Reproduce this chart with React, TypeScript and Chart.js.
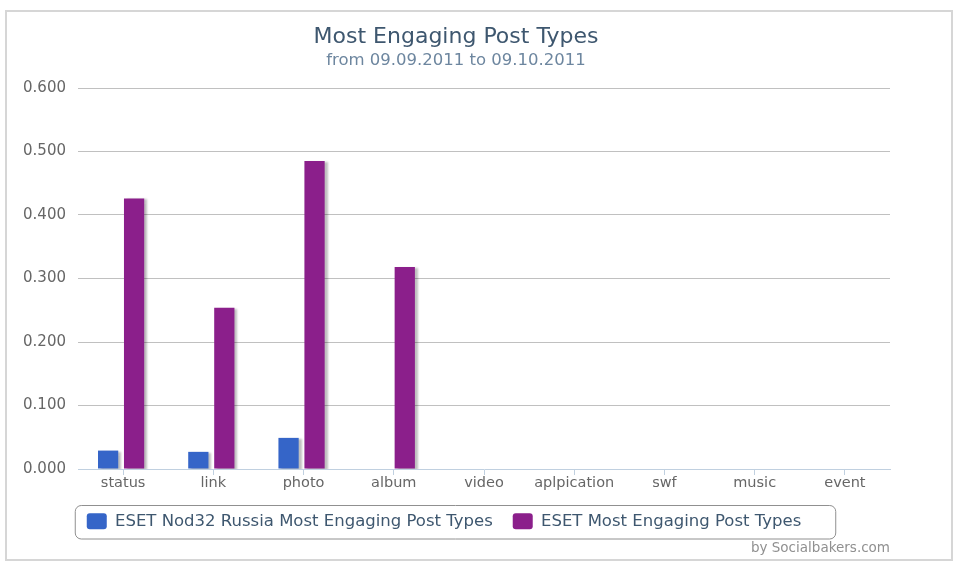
import { Chart, registerables } from "chart.js";
import { useEffect, useRef } from "react";

Chart.register(...registerables);

const categories = ["status", "link", "photo", "album", "video", "aplpication", "swf", "music", "event"];
const russiaValues = [0.029, 0.027, 0.049, 0, 0, 0, 0, 0, 0];
const esetValues = [0.426, 0.254, 0.485, 0.318, 0, 0, 0, 0, 0];
const seriesNames = ["ESET Nod32 Russia Most Engaging Post Types", "ESET Most Engaging Post Types"];
const yTicks = [0, 0.1, 0.2, 0.3, 0.4, 0.5, 0.6];

const FONT = "'DejaVu Sans', Verdana, sans-serif";

// bars get a soft grey shadow to the right (and sit a bit left of the tick, like the original)
const barShadow = {
    id: "barShadow",
    beforeDatasetsDraw(chart: Chart) {
        const ctx = chart.ctx;
        ctx.save();
        ctx.translate(-2, 0);
        ctx.shadowColor = "rgba(0,0,0,0.25)";
        ctx.shadowOffsetX = 3;
        ctx.shadowOffsetY = 1;
        ctx.shadowBlur = 2;
    },
    afterDatasetsDraw(chart: Chart) {
        chart.ctx.restore();
    },
};

// rounded frame around the legend and the credits text
const legendFrame = {
    id: "legendFrame",
    afterLayout(chart: Chart) {
        // the legend box sits a little left of centre in the original
        const legend: any = chart.legend;
        if (!legend) return;
        legend.left -= 12;
        legend.right -= 12;
    },
    afterDraw(chart: Chart) {
        const legend: any = chart.legend;
        if (!legend || !legend.legendHitBoxes?.length) return;
        const boxes = legend.legendHitBoxes;
        const left = Math.min(...boxes.map((b: any) => b.left)) - 12;
        const right = Math.max(...boxes.map((b: any) => b.left + b.width)) + 34;
        const top = boxes[0].top - 8;
        const bottom = boxes[0].top + boxes[0].height + 9;
        const ctx = chart.ctx;
        ctx.save();
        ctx.strokeStyle = "#909090";
        ctx.lineWidth = 1;
        ctx.beginPath();
        ctx.roundRect(left + 0.5, top + 0.5, right - left, bottom - top, 6);
        ctx.stroke();
        ctx.fillStyle = "#909090";
        ctx.font = `13.5px ${FONT}`;
        ctx.textAlign = "right";
        ctx.textBaseline = "middle";
        ctx.fillText("by Socialbakers.com", chart.chartArea.right, bottom + 10);
        ctx.restore();
    },
};

const BarChart = () => {
    const canvasRef = useRef<HTMLCanvasElement | null>(null);

    useEffect(() => {
        if (!canvasRef.current) return;
        const ctx = canvasRef.current.getContext("2d");
        if (!ctx) return;

        const chartInstance = new Chart(ctx, {
            type: "bar",
            data: {
                labels: categories,
                datasets: [
                    {
                        label: seriesNames[0],
                        data: russiaValues,
                        backgroundColor: "#3565C8",
                        borderWidth: 0,
                        barPercentage: 0.78,
                        categoryPercentage: 0.576,
                    },
                    {
                        label: seriesNames[1],
                        data: esetValues,
                        backgroundColor: "#8B1F8B",
                        borderWidth: 0,
                        barPercentage: 0.78,
                        categoryPercentage: 0.576,
                    },
                ],
            },
            options: {
                animation: false,
                responsive: true,
                maintainAspectRatio: false,
                layout: { padding: { left: 22, right: 72, top: 0, bottom: 26.5 } },
                plugins: {
                    tooltip: { enabled: false },
                    title: {
                        display: true,
                        text: "Most Engaging Post Types",
                        color: "#3E576F",
                        font: { family: FONT, size: 22, weight: "normal" },
                        padding: { top: 24, bottom: 0 },
                    },
                    subtitle: {
                        display: true,
                        text: "from 09.09.2011 to 09.10.2011",
                        color: "#6D869F",
                        font: { family: FONT, size: 16.5, weight: "normal" },
                        padding: { top: 0, bottom: 17.8 },
                    },
                    legend: {
                        position: "bottom",
                        labels: {
                            color: "#3E576F",
                            font: { family: FONT, size: 16.5 },
                            boxWidth: 20,
                            boxHeight: 16,
                            padding: 20,
                            useBorderRadius: true,
                            borderRadius: 3,
                        },
                    },
                },
                scales: {
                    x: {
                        afterFit: (scale) => {
                            scale.height = 24;
                        },
                        grid: {
                            offset: false,
                            drawOnChartArea: false,
                            drawTicks: true,
                            tickLength: 6,
                            color: "#C0D0E0",
                        },
                        border: { color: "#C0D0E0", width: 1 },
                        ticks: {
                            color: "#666666",
                            padding: 0,
                            font: { family: FONT, size: 14.5 },
                        },
                    },
                    y: {
                        min: yTicks[0],
                        max: yTicks[yTicks.length - 1],
                        afterFit: (scale) => {
                            scale.width = 56;
                        },
                        afterBuildTicks: (scale) => {
                            scale.ticks = yTicks.map((v) => ({ value: v }));
                        },
                        grid: {
                            drawTicks: false,
                            color: (c) => (c.tick && c.tick.value === 0 ? "rgba(0,0,0,0)" : "#C0C0C0"),
                        },
                        border: { display: false },
                        ticks: {
                            color: "#666666",
                            padding: 12,
                            font: { family: FONT, size: 15 },
                            callback: (v) => Number(v).toFixed(3),
                        },
                    },
                },
            },
            plugins: [barShadow, legendFrame],
        });
        return () => {
            chartInstance.destroy();
        };
    }, []);

    return <canvas ref={canvasRef}></canvas>;
};

export default function App() {
    return (
        <div style={{ position: "absolute", left: 0, top: 0, width: 962, height: 566, background: "#fff" }}>
            <div
                style={{
                    position: "absolute",
                    left: 5,
                    top: 10,
                    width: 944,
                    height: 547,
                    border: "2px solid #d6d6d6",
                }}
            />
            <div style={{ position: "absolute", left: 0, top: 0, width: 962, height: 566 }}>
                <BarChart />
            </div>
        </div>
    );
}
